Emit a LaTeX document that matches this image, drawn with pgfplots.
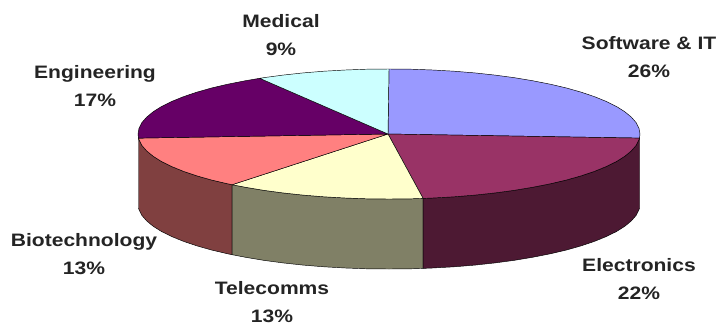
\documentclass[border=0pt]{standalone}
\usepackage{pgfplots}
\pgfplotsset{compat=1.18}
\usepackage{fontspec}
\setmainfont{Liberation Sans}
\newfontfamily\labelfont[FakeStretch=1.17]{Liberation Sans}
\definecolor{softA}{HTML}{9999FF}
\definecolor{elecA}{HTML}{993366}
\definecolor{teleA}{HTML}{FFFFCC}
\definecolor{bioA}{HTML}{FF8080}
\definecolor{engA}{HTML}{660066}
\definecolor{medA}{HTML}{CCFFFF}
\definecolor{elecB}{HTML}{4D1933}
\definecolor{teleB}{HTML}{808066}
\definecolor{bioB}{HTML}{804040}
\definecolor{labelc}{HTML}{242424}
\tikzset{pielabel/.style={font=\labelfont\fontsize{18}{27.5}\selectfont\bfseries, text=labelc, align=center, anchor=center, inner sep=0pt}}
\begin{document}
\begin{tikzpicture}
\begin{axis}[
  width=718pt, height=325pt, scale only axis,
  xmin=0, xmax=718, ymin=0, ymax=325, y dir=reverse,
  hide axis, clip=false]
% page background
\addplot[fill=white, draw=none] coordinates {(0,0) (718,0) (718,325) (0,325)} -- cycle;
% side walls of the disc
\addplot[fill=bioB, draw=black, line width=0.45pt] coordinates {
 (138.5,138.1) (139,139.7) (141.8,145.3) (146.6,150.8) (153.1,156.2) (161.5,161.5) (171.6,166.5) (183.4,171.3) (196.7,175.8) (211.5,180) (227.7,183.8) (232.1,184.7)
 (232.1,254.7) (227.7,253.8) (211.5,250) (196.7,245.8) (183.4,241.3) (171.6,236.5) (161.5,231.5) (153.1,226.2) (146.6,220.8) (141.8,215.3) (139,209.7) (138.5,208.1)} -- cycle;
\addplot[fill=teleB, draw=black, line width=0.45pt] coordinates {
 (232.1,184.7) (245,187.2) (263.5,190.3) (282.9,192.9) (303.2,195.1) (324,196.8) (345.4,198) (367.1,198.8) (389,199) (410.9,198.8) (423.1,198.4)
 (423.1,268.4) (410.9,268.8) (389,269) (367.1,268.8) (345.4,268) (324,266.8) (303.2,265.1) (282.9,262.9) (263.5,260.3) (245,257.2) (232.1,254.7)} -- cycle;
\addplot[fill=elecB, draw=black, line width=0.45pt] coordinates {
 (423.1,198.4) (432.6,198) (454,196.8) (474.8,195.1) (495.1,192.9) (514.5,190.3) (533,187.2) (550.3,183.8) (566.5,180) (581.3,175.8) (594.6,171.3) (606.4,166.5) (616.5,161.5) (624.9,156.2) (631.4,150.8) (636.2,145.3) (639,139.7) (639.5,138.1)
 (639.5,208.1) (639,209.7) (636.2,215.3) (631.4,220.8) (624.9,226.2) (616.5,231.5) (606.4,236.5) (594.6,241.3) (581.3,245.8) (566.5,250) (550.3,253.8) (533,257.2) (514.5,260.3) (495.1,262.9) (474.8,265.1) (454,266.8) (432.6,268) (423.1,268.4)} -- cycle;
% top face, one wedge per sector
\addplot[fill=softA, draw=black, line width=0.45pt] coordinates {
 (388,134) (639.5,138.1) (640,134) (639,128.3) (636.2,122.7) (631.4,117.2) (624.9,111.8) (616.5,106.5) (606.4,101.5) (594.6,96.7) (581.3,92.2) (566.5,88) (550.3,84.2) (533,80.8) (514.5,77.7) (495.1,75.1) (474.8,72.9) (454,71.2) (432.6,70) (410.9,69.2) (389,69)} -- cycle;
\addplot[fill=elecA, draw=black, line width=0.45pt] coordinates {
 (388,134) (423.1,198.4) (432.6,198) (454,196.8) (474.8,195.1) (495.1,192.9) (514.5,190.3) (533,187.2) (550.3,183.8) (566.5,180) (581.3,175.8) (594.6,171.3) (606.4,166.5) (616.5,161.5) (624.9,156.2) (631.4,150.8) (636.2,145.3) (639,139.7) (639.5,138.1)} -- cycle;
\addplot[fill=teleA, draw=black, line width=0.45pt] coordinates {
 (388,134) (232.1,184.7) (245,187.2) (263.5,190.3) (282.9,192.9) (303.2,195.1) (324,196.8) (345.4,198) (367.1,198.8) (389,199) (410.9,198.8) (423.1,198.4)} -- cycle;
\addplot[fill=bioA, draw=black, line width=0.45pt] coordinates {
 (388,134) (138.5,138.1) (139,139.7) (141.8,145.3) (146.6,150.8) (153.1,156.2) (161.5,161.5) (171.6,166.5) (183.4,171.3) (196.7,175.8) (211.5,180) (227.7,183.8) (232.1,184.7)} -- cycle;
\addplot[fill=engA, draw=black, line width=0.45pt] coordinates {
 (388,134) (259.7,78.3) (245,80.8) (227.7,84.2) (211.5,88) (196.7,92.2) (183.4,96.7) (171.6,101.5) (161.5,106.5) (153.1,111.8) (146.6,117.2) (141.8,122.7) (139,128.3) (138,134) (138.5,138.1)} -- cycle;
\addplot[fill=medA, draw=black, line width=0.45pt] coordinates {
 (388,134) (389,69) (367.1,69.2) (345.4,70) (324,71.2) (303.2,72.9) (282.9,75.1) (263.5,77.7) (259.7,78.3)} -- cycle;
% sector labels
\node[pielabel] at (axis cs:649,57) {Software \& IT\\26\%};
\node[pielabel] at (axis cs:281,35) {Medical\\9\%};
\node[pielabel] at (axis cs:95,86) {Engineering\\17\%};
\node[pielabel] at (axis cs:84,254) {Biotechnology\\13\%};
\node[pielabel] at (axis cs:272,302) {Telecomms\\13\%};
\node[pielabel] at (axis cs:639,279) {Electronics\\22\%};
\end{axis}
\end{tikzpicture}
\end{document}
